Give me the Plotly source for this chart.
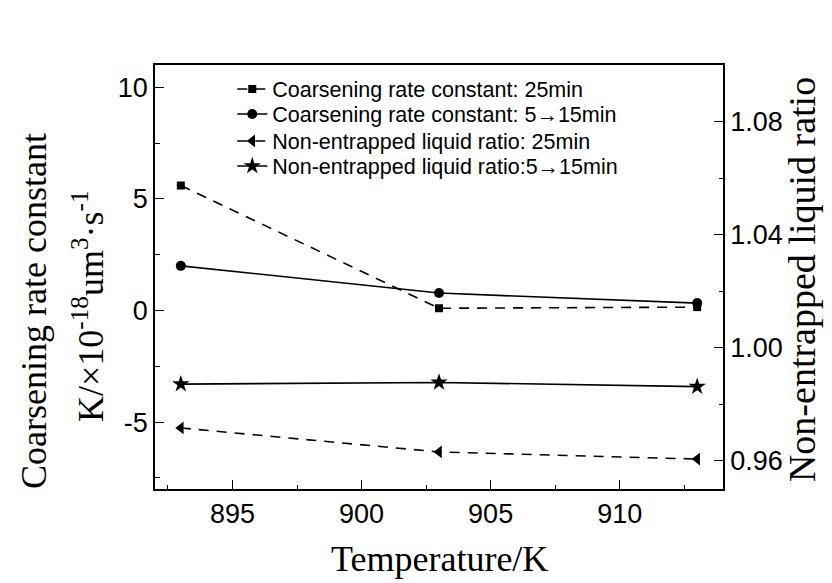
import plotly.graph_objects as go

# ---- data ----
temperature = [893, 903, 913]
k_25min = [5.6, 0.10, 0.15]
k_5_15min = [2.0, 0.78, 0.33]
ratio_25min = [0.9716, 0.9631, 0.9606]
ratio_5_15min = [0.9871, 0.9877, 0.9862]

names = [
    "Coarsening rate constant: 25min",
    "Coarsening rate constant: 5\u219215min",
    "Non-entrapped liquid ratio: 25min",
    "Non-entrapped liquid ratio:5\u219215min",
]

left_tickvals = [-5, 0, 5, 10]
left_ticktext = ["-5", "0", "5", "10"]

SANS = "Liberation Sans, Arial, sans-serif"
SERIF = "Liberation Serif, Times New Roman, serif"
DASH = "10px,8px"

fig = go.Figure()
fig.add_trace(go.Scatter(x=temperature, y=k_25min, name=names[0], mode="lines+markers",
                         legend="legend",
                         line=dict(color="black", width=1.6, dash=DASH),
                         marker=dict(symbol="square", size=8, color="black")))
fig.add_trace(go.Scatter(x=temperature, y=k_5_15min, name=names[1], mode="lines+markers",
                         legend="legend2",
                         line=dict(color="black", width=1.6),
                         marker=dict(symbol="circle", size=10, color="black")))
fig.add_trace(go.Scatter(x=temperature, y=ratio_25min, name=names[2], mode="lines+markers",
                         yaxis="y2", legend="legend3",
                         line=dict(color="black", width=1.6, dash=DASH),
                         marker=dict(symbol="triangle-left", size=11, color="black")))
fig.add_trace(go.Scatter(x=temperature, y=ratio_5_15min, name=names[3], mode="lines+markers",
                         yaxis="y2", legend="legend4",
                         line=dict(color="black", width=1.6),
                         marker=dict(symbol="star", size=13, color="black")))

axis_common = dict(showline=True, linecolor="black", linewidth=1.5, showgrid=False,
                   zeroline=False, ticks="inside", ticklen=9, tickwidth=1.2,
                   tickcolor="black", tickfont=dict(family=SANS, size=27, color="black"))


def legend_at(yc):
    return dict(x=0.136, y=yc, xanchor="left", yanchor="middle",
                bgcolor="rgba(0,0,0,0)", borderwidth=0,
                font=dict(family=SANS, size=21.5, color="black"),
                itemsizing="trace")


fig.update_layout(
    width=832, height=583,
    margin=dict(l=155, r=109, t=65, b=94),
    paper_bgcolor="white", plot_bgcolor="white",
    showlegend=True,
    legend=legend_at(0.9434),
    legend2=legend_at(0.8844),
    legend3=legend_at(0.8208),
    legend4=legend_at(0.7618),
    xaxis=dict(range=[892, 914], dtick=5, tick0=895, mirror=True,
               minor=dict(dtick=2.5, tick0=892.5, ticks="inside", ticklen=4,
                          tickcolor="black", tickwidth=1.2),
               **axis_common),
    yaxis=dict(range=[-8, 11], tickmode="array", tickvals=left_tickvals,
               ticktext=left_ticktext,
               minor=dict(dtick=2.5, tick0=0, ticks="inside", ticklen=5,
                          tickcolor="black", tickwidth=1.2),
               **axis_common),
    yaxis2=dict(range=[0.95, 1.10], dtick=0.04, tick0=0.96, overlaying="y", side="right",
                tickformat=".2f",
                minor=dict(dtick=0.02, tick0=0.96, ticks="inside", ticklen=4,
                           tickcolor="black", tickwidth=1.2),
                **axis_common),
    annotations=[
        dict(text="Temperature/K", xref="paper", yref="paper", x=0.5, y=-0.165,
             xanchor="center", yanchor="middle", showarrow=False,
             font=dict(family=SERIF, size=36, color="black")),
        dict(text="Coarsening rate constant", xref="paper", yref="paper",
             x=-0.213, y=0.42, xanchor="center", yanchor="middle", textangle=-90,
             showarrow=False, font=dict(family=SERIF, size=36, color="black")),
        dict(text="K/\u00d710<sup>-18</sup>um<sup>3</sup>\u00b7s<sup>-1</sup>", xref="paper",
             yref="paper", x=-0.118, y=0.4316, xanchor="center", yanchor="middle",
             textangle=-90, showarrow=False,
             font=dict(family=SERIF, size=36, color="black")),
        dict(text="Non-entrapped liquid ratio", xref="paper", yref="paper",
             x=1.139, y=0.495, xanchor="center", yanchor="middle", textangle=-90,
             showarrow=False, font=dict(family=SERIF, size=38, color="black")),
    ],
)

fig.write_html("out.html")
